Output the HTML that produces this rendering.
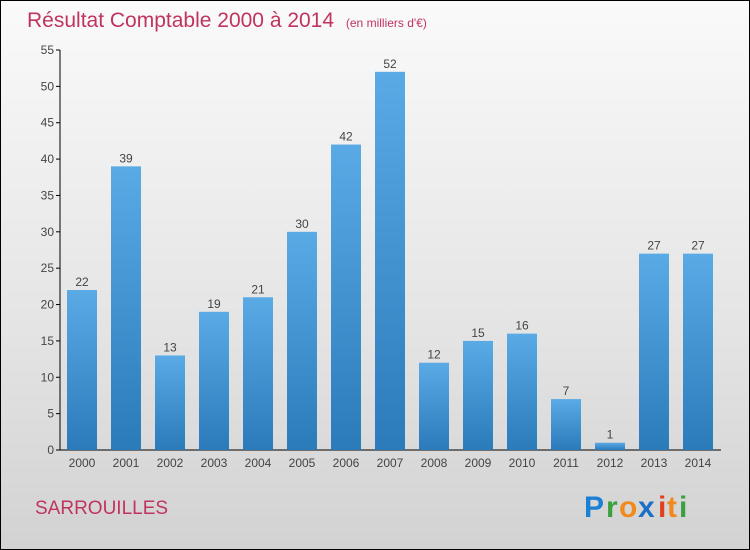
<!DOCTYPE html>
<html><head><meta charset="utf-8"><style>
body{margin:0;}
#c{width:750px;height:550px;position:relative;box-sizing:border-box;border:1px solid #000;background:linear-gradient(#fafafa,#e4e4e4 60%,#d2d2d2);font-family:"Liberation Sans",sans-serif;overflow:hidden}
</style></head><body>
<div id="c">
<svg width="748" height="548" style="position:absolute;left:0;top:0" id="svg">
<defs><linearGradient id="bg" x1="0" y1="0" x2="0" y2="1"><stop offset="0" stop-color="#5aaae6"/><stop offset="1" stop-color="#2b7bbb"/></linearGradient></defs>
<text x="26" y="26" font-size="21" fill="#c0345e">Résultat Comptable 2000 à 2014 <tspan font-size="12" dx="6">(en milliers d'€)</tspan></text>
<g id="plot"></g>
<text x="34" y="513" font-size="19" fill="#c0345e">SARROUILLES</text>
<g font-size="30" font-weight="bold">
<text x="583" y="516" fill="#1b7fd4">P</text><text x="605" y="516" fill="#3aa040">r</text><text x="618" y="516" fill="#f08a1c">o</text><text x="637" y="516" fill="#1b6fc4">x</text><text x="657" y="516" fill="#e0401c">i</text><text x="666" y="516" fill="#f08a1c">t</text><text x="678" y="516" fill="#3aa040">i</text>
</g>
</svg>
</div>
<script>
const years=["2000","2001","2002","2003","2004","2005","2006","2007","2008","2009","2010","2011","2012","2013","2014"];
const values=[22,39,13,19,21,30,42,52,12,15,16,7,1,27,27];
const yTicks=[0,5,10,15,20,25,30,35,40,45,50,55];
const NS="http://www.w3.org/2000/svg";
const g=document.getElementById('plot');
const y=v=>449-v*(400/55);
const x=i=>81+i*44;
function mk(t,a){const e=document.createElementNS(NS,t);for(const k in a)e.setAttribute(k,a[k]);g.appendChild(e);return e;}
let ax=mk('line',{x1:59,y1:49,x2:59,y2:449,stroke:'#000'});


let bx=mk('line',{x1:59,y1:449,x2:720,y2:449,stroke:'#000'});


yTicks.forEach(t=>{
 mk('line',{x1:55,y1:y(t),x2:59,y2:y(t),stroke:'#000'});
 const l=mk('text',{x:53,y:y(t)+4,'font-size':12,fill:'#444','text-anchor':'end'});l.textContent=t;
 
 
});
years.forEach((yr,i)=>{
 const v=values[i];
 const r=mk('rect',{x:x(i)-15,y:y(v),width:30,height:449-y(v),fill:'url(#bg)'});
 
 
 const vl=mk('text',{x:x(i),y:y(v)-4,'font-size':12,fill:'#444','text-anchor':'middle'});vl.textContent=v;
 
 
 const xl=mk('text',{x:x(i),y:466,'font-size':12,fill:'#444','text-anchor':'middle'});xl.textContent=yr;
 
 
});
</script>
</body></html>
